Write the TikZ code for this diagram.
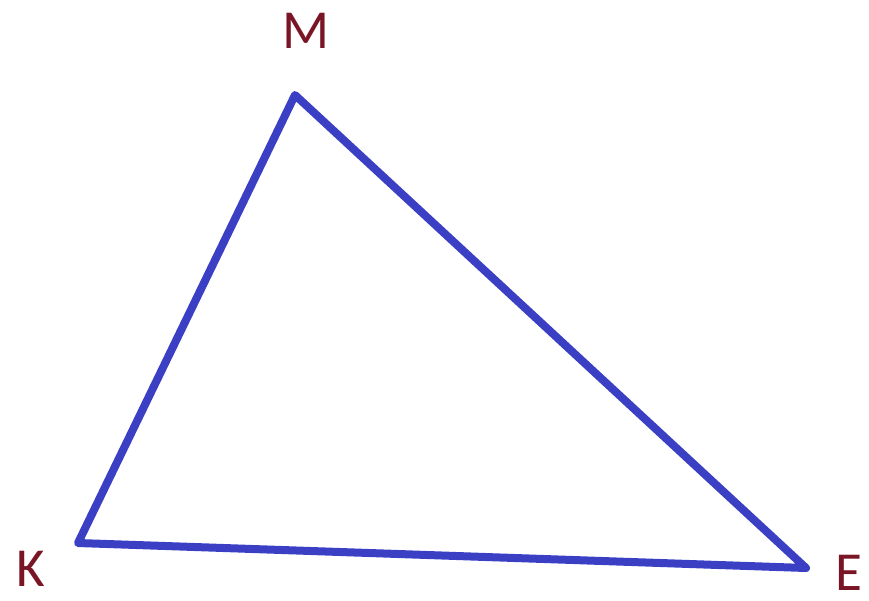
\documentclass[tikz,border=0pt]{standalone}
\usepackage{fontspec}
\setmainfont{Carlito}
\definecolor{triblue}{HTML}{3A3FC4}
\definecolor{labred}{HTML}{7A1525}
\begin{document}
\begin{tikzpicture}[x=1pt,y=-1pt,
  edge/.style={draw=triblue,line width=8pt,line join=round,line cap=round},
  lab/.style={text=labred,font=\fontsize{55}{55}\selectfont,inner sep=0pt,anchor=center}]
\useasboundingbox (0,0) rectangle (869,600);
\coordinate (M) at (295,95);
\coordinate (K) at (78,543);
\coordinate (E) at (806,568);
\draw[edge] (M) -- (E) -- (K) -- cycle;
\node[lab] (lM) at (306,31) {M};
\node[lab] (lK) at (31,569) {K};
\node[lab] (lE) at (849,573) {E};
\end{tikzpicture}
\end{document}
